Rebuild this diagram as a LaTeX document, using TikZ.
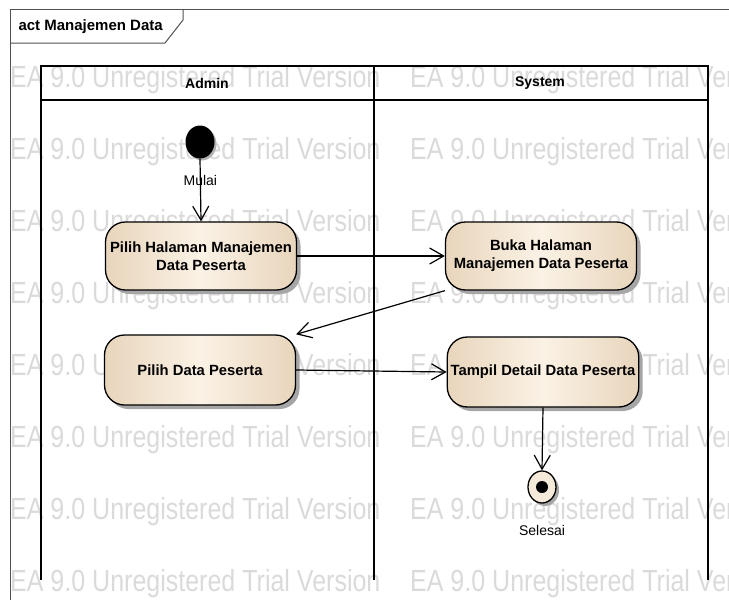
\documentclass[tikz,border=0pt]{standalone}
\usepackage{fontspec}
\setmainfont{Liberation Sans}
\newfontfamily\wmfont[FakeStretch=0.82]{Liberation Sans}
\usetikzlibrary{shapes,positioning,shadows,arrows.meta}
\tikzset{>={Straight Barb[length=14pt,width=16pt]}}
\definecolor{actedge}{RGB}{232,213,188}
\definecolor{actmid}{RGB}{251,242,229}
\definecolor{wmgray}{RGB}{218,218,218}
\definecolor{framegray}{RGB}{80,80,80}

\begin{document}
\begin{tikzpicture}[x=1pt,y=-1pt,
action/.style = {
    draw, line width=1.3pt, rounded corners=20pt,
    left color=actedge, right color=actedge, middle color=actmid,
    minimum width=191pt, minimum height=68pt, align=center,
    font=\bfseries\fontsize{14.8}{18}\selectfont,
    drop shadow={shadow xshift=4pt,shadow yshift=-4pt,
                 fill=black!35,opacity=1},
                },
startnode/.style = {
    ellipse, fill=black, minimum width=29pt, minimum height=33pt,
    inner sep=0pt,
    drop shadow={shadow xshift=2pt,shadow yshift=-2pt,
                 fill=black!30,opacity=1},
                },
endnode/.style = {
    ellipse, draw, line width=1.3pt, fill=actmid!70!actedge,
    minimum width=28pt, minimum height=32pt, inner sep=0pt,
    drop shadow={shadow xshift=3pt,shadow yshift=-3pt,
                 fill=black!35,opacity=1},
                },
flow/.style = {->, line width=1.2pt},
lane/.style = {line width=1.8pt},
wmark/.style = {
    anchor=base west, inner sep=0pt, text=wmgray,
    font=\wmfont\fontsize{30.5}{32}\selectfont,
                },
small/.style = {font=\fontsize{14}{16}\selectfont, inner sep=1pt},
header/.style = {font=\bfseries\fontsize{14}{16}\selectfont},
                    ]
\clip (0,0) rectangle (729,600);
% watermark
\foreach \r in {0,...,7}
  \foreach \c in {0,1}
    \node[wmark] (wm-\r-\c) at (10+400*\c, 87+72*\r)
        {EA 9.0 Unregistered Trial Version};
% frame
\draw[framegray, line width=1pt] (10,600) -- (10,9) -- (740,9);
\draw[framegray, line width=1pt] (183,9) -- (183,20) -- (165,43) -- (10,43);
\node[anchor=west, font=\bfseries\fontsize{15}{18}\selectfont] (title)
    at (15,27) {act Manajemen Data};
% swimlanes
\draw[lane] (41,580) -- (41,66) -- (708,66) -- (708,580);
\draw[lane] (41,100) -- (708,100);
\draw[lane] (374,66) -- (374,580);
\node[header] (admin) at (207,83) {Admin};
\node[header] (system) at (540,83) {System};
% nodes
\node[startnode] (start) at (200,142) {};
\node[action] (a1) at (201,256) {Pilih Halaman Manajemen\\Data Peserta};
\node[action] (s1) at (541,256) {Buka Halaman\\Manajemen Data Peserta};
\node[action, minimum height=70pt] (a2) at (200,370) {Pilih Data Peserta};
\node[action, minimum height=70pt] (s2) at (543,372) {Tampil Detail Data Peserta};
\node[endnode] (fin) at (542,487) {};
\node[circle, fill=black, minimum size=12pt, inner sep=0pt] (findot) at (fin) {};
\node[small, below=20pt of fin] (selesai) {Selesai};
% flows
\draw[flow] (start.south) -- node[small, pos=0.35] (mulai) {Mulai} (a1.north);
\draw[flow] (a1.east) -- (s1.west);
\draw[flow] (s1.south west) -- (a2.north east);
\draw[flow] (a2.east) -- (s2.west);
\draw[flow] (s2.south) -- (fin.north);
\end{tikzpicture}
\end{document}
